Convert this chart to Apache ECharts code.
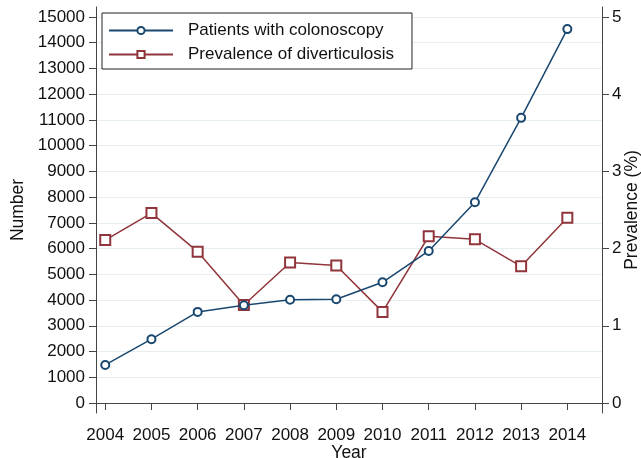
<!DOCTYPE html>
<html>
<head>
<meta charset="utf-8">
<script src="https://cdn.jsdelivr.net/npm/echarts@6/dist/echarts.min.js"></script>
<style>
  html, body { margin: 0; padding: 0; background: #fff; overflow: hidden; }
  #chart { width: 641px; height: 458px; }
</style>
</head>
<body>
<div id="chart"></div>
<script>
// Colonoscopy volume and diverticulosis prevalence by year
const years = [2004, 2005, 2006, 2007, 2008, 2009, 2010, 2011, 2012, 2013, 2014];
const patients = [1480, 2480, 3540, 3800, 4010, 4030, 4690, 5910, 7800, 11080, 14530];
const prevalence = [2.11, 2.46, 1.96, 1.27, 1.82, 1.78, 1.18, 2.16, 2.12, 1.77, 2.40];
const leftTicks = [0, 1000, 2000, 3000, 4000, 5000, 6000, 7000, 8000, 9000, 10000, 11000, 12000, 13000, 14000, 15000];
const rightTicks = [0, 1, 2, 3, 4, 5];

const BLUE = '#1a476f';
const RED = '#90353b';
const AXIS = '#444';
const TEXT = '#111';
const FONT = 'Liberation Sans, Arial, sans-serif';
const TICK_FS = 17;
const TITLE_FS = 17.5;

const chart = echarts.init(document.getElementById('chart'), null, { renderer: 'canvas' });

const plain = v => String(v);

const option = {
  animation: false,
  backgroundColor: '#fff',
  textStyle: { fontFamily: FONT },
  legend: {
    orient: 'vertical',
    left: 102,
    top: 13,
    padding: [9, 18, 6, 6],
    itemGap: 7,
    itemWidth: 64,
    itemHeight: 9,
    borderColor: '#222',
    borderWidth: 1,
    backgroundColor: '#fff',
    textStyle: { fontSize: TICK_FS, color: TEXT, fontFamily: FONT, lineHeight: 16, padding: [0, 0, 0, 10] },
    data: ['Patients with colonoscopy', 'Prevalence of diverticulosis']
  },
  grid: [
    // plotting area: 0..15000 / 0..5 span the inner range
    { left: 96, right: 39, top: 17, bottom: 55, containLabel: false, outerBoundsMode: 'none' },
    // frame: axis lines reach slightly past the data range
    { left: 96, right: 39, top: 7, bottom: 45, containLabel: false, outerBoundsMode: 'none' }
  ],
  xAxis: [
    {
      gridIndex: 0,
      type: 'value',
      min: 2003.8,
      max: 2014.75,
      offset: 10,
      name: 'Year',
      nameLocation: 'middle',
      nameGap: 31,
      nameMoveOverlap: false,
      nameTextStyle: { fontSize: TITLE_FS, color: TEXT },
      axisLine: { show: true, lineStyle: { color: AXIS, width: 1 } },
      axisTick: { show: true, length: 7, customValues: years, lineStyle: { color: AXIS } },
      axisLabel: { customValues: years, fontSize: TICK_FS, color: TEXT, margin: 14, formatter: plain },
      splitLine: { show: false }
    },
    {
      gridIndex: 1,
      type: 'value',
      min: 0, max: 1,
      axisLine: { show: false },
      axisTick: { show: false },
      axisLabel: { show: false },
      splitLine: { show: false }
    }
  ],
  yAxis: [
    {
      gridIndex: 0,
      type: 'value',
      min: leftTicks[0],
      max: leftTicks[leftTicks.length - 1],
      interval: 1000,
      name: 'Number',
      nameLocation: 'middle',
      nameGap: 69,
      nameMoveOverlap: false,
      nameTextStyle: { fontSize: TITLE_FS, color: TEXT },
      axisLine: { show: false },
      axisTick: { show: true, length: 7, lineStyle: { color: AXIS } },
      axisLabel: { fontSize: TICK_FS, color: TEXT, margin: 11, formatter: plain },
      splitLine: { show: true, lineStyle: { color: '#e6eef1', width: 1 } }
    },
    {
      gridIndex: 0,
      type: 'value',
      position: 'right',
      min: rightTicks[0],
      max: rightTicks[rightTicks.length - 1],
      interval: 1,
      name: 'Prevalence (%)',
      nameLocation: 'middle',
      nameGap: 21,
      nameMoveOverlap: false,
      nameRotate: 90,
      nameTextStyle: { fontSize: TITLE_FS, color: TEXT },
      axisLine: { show: false },
      axisTick: { show: true, length: 7, lineStyle: { color: AXIS } },
      axisLabel: { fontSize: TICK_FS, color: TEXT, margin: 10, formatter: plain },
      splitLine: { show: false }
    },
    {
      gridIndex: 1,
      type: 'value',
      position: 'left',
      min: 0, max: 1,
      axisLine: { show: true, lineStyle: { color: AXIS, width: 1 } },
      axisTick: { show: false },
      axisLabel: { show: false },
      splitLine: { show: false }
    },
    {
      gridIndex: 1,
      type: 'value',
      position: 'right',
      min: 0, max: 1,
      axisLine: { show: true, lineStyle: { color: AXIS, width: 1 } },
      axisTick: { show: false },
      axisLabel: { show: false },
      splitLine: { show: false }
    }
  ],
  series: [
    {
      name: 'Patients with colonoscopy',
      type: 'line',
      xAxisIndex: 0,
      yAxisIndex: 0,
      data: years.map((y, i) => [y, patients[i]]),
      symbol: 'emptyCircle',
      symbolSize: 8,
      color: BLUE,
      lineStyle: { color: BLUE, width: 1.5 },
      itemStyle: { color: BLUE, borderWidth: 1.5 },
      z: 3
    },
    {
      name: 'Prevalence of diverticulosis',
      type: 'line',
      xAxisIndex: 0,
      yAxisIndex: 1,
      data: years.map((y, i) => [y, prevalence[i]]),
      symbol: 'emptyRect',
      symbolSize: 10,
      color: RED,
      lineStyle: { color: RED, width: 1.5 },
      itemStyle: { color: RED, borderWidth: 1.5 },
      z: 2
    }
  ]
};

chart.setOption(option);
</script>
</body>
</html>
